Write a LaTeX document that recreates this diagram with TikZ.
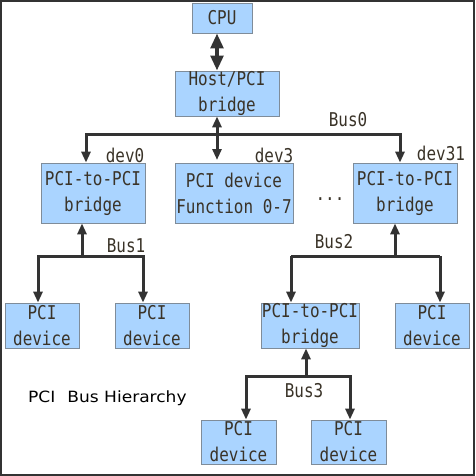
\documentclass[tikz,border=0pt]{standalone}
\usepackage{fontspec}
\setmainfont{DejaVu Sans}
\newfontfamily\monof[FakeStretch=0.84]{DejaVu Sans Mono}
\newfontfamily\titlef[FakeStretch=1.1]{DejaVu Sans}
\usetikzlibrary{arrows.meta,calc}
\definecolor{boxfill}{HTML}{AAD4FF}
\definecolor{boxdraw}{HTML}{7F8C99}
\definecolor{wirec}{HTML}{333333}
\definecolor{txtc}{HTML}{3A3328}
\begin{document}
\begin{tikzpicture}[x=1pt,y=-1pt,
  box/.style={draw=boxdraw, fill=boxfill, line width=0.8pt, font=\monof\fontsize{19}{26}\selectfont, text=txtc, align=center, inner sep=0pt},
  wire/.style={draw=wirec, line width=3pt},
  arr/.style={wire, -{Triangle[length=11pt,width=9pt]}},
  darr/.style={wire, {Triangle[length=11pt,width=9pt]}-{Triangle[length=11pt,width=9pt]}},
  bigdarr/.style={draw=wirec, line width=4.5pt, {Triangle[length=15pt,width=12.5pt]}-{Triangle[length=15pt,width=12.5pt]}},
  lbl/.style={font=\monof\fontsize{19}{24}\selectfont, text=txtc, inner sep=0pt}]
\useasboundingbox (0,0) rectangle (475,476);
\draw[draw=wirec, line width=2pt] (1,1) rectangle (473.5,474.5);

% nodes
\node[box, minimum width=60pt, minimum height=30pt] (cpu) at (222,18) {CPU};
\node[box, minimum width=104pt, minimum height=45pt] (host) at (227,93.5) {Host/PCI\\bridge};
\node[box, minimum width=104pt, minimum height=60pt] (br0) at (93,193) {PCI-to-PCI\\bridge};
\node[box, minimum width=118pt, minimum height=60pt] (fn) at (234,193) {PCI device\\Function 0-7};
\node[box, minimum width=104pt, minimum height=60pt] (br31) at (405,193) {PCI-to-PCI\\bridge};
\node[box, minimum width=74pt, minimum height=45pt] (d1) at (42,325.5) {PCI\\device};
\node[box, minimum width=74pt, minimum height=45pt] (d2) at (152,325.5) {PCI\\device};
\node[box, minimum width=98pt, minimum height=45pt] (br2) at (310,325.5) {PCI-to-PCI\\bridge};
\node[box, minimum width=74pt, minimum height=45pt] (d4) at (432,325.5) {PCI\\device};
\node[box, minimum width=75pt, minimum height=44pt] (d5) at (238.5,442) {PCI\\device};
\node[box, minimum width=75pt, minimum height=44pt] (d6) at (348.5,442) {PCI\\device};

% labels
\node[lbl] (lb0) at (348,120) {Bus0};
\node[lbl] (ldev0) at (125,155) {dev0};
\node[lbl] (ldev3) at (274,155) {dev3};
\node[lbl] (ldev31) at (441,153) {dev31};
\node[lbl] (ldots) at (330,199) {...};
\node[lbl] (lb1) at (126,246) {Bus1};
\node[lbl] (lb2) at (334,242) {Bus2};
\node[lbl] (lb3) at (304,391) {Bus3};
\node[font=\titlef\fontsize{15.5}{18}\selectfont, text=black, anchor=west, inner sep=0pt] (title) at (28,398) {PCI\hspace{12pt}Bus Hierarchy};

% bus coordinates
\coordinate (b0l) at (86,134);
\coordinate (b0r) at (400,134);
\coordinate (b0h) at (217,160);
\coordinate (b1l) at (38,256);
\coordinate (b1r) at (143,256);
\coordinate (b1m) at (82,256);
\coordinate (b2l) at (291,256);
\coordinate (b2r) at (440,256);
\coordinate (b2m) at (395,256);
\coordinate (b3l) at (246,376);
\coordinate (b3r) at (350,376);
\coordinate (b3m) at (306,376);

% CPU - host
\draw[bigdarr] (cpu.south -| 217,0) -- (host.north -| 217,0);
% Bus0
\draw[wire, line cap=rect] (b0l) -- (b0r);
\draw[darr] (host.south -| 217,0) -- (b0h);
\draw[arr] (b0l) -- (b0l |- br0.north);
\draw[arr] (b0r) -- (b0r |- br31.north);
% Bus1
\draw[wire, line cap=rect] (b1l) -- (b1r);
\draw[arr] (b1m) -- (b1m |- br0.south);
\draw[arr] (b1l) -- (b1l |- d1.north);
\draw[arr] (b1r) -- (b1r |- d2.north);
% Bus2
\draw[wire] (b2l) -- (b2r);
\draw[arr] (b2m) -- (b2m |- br31.south);
\draw[arr] (b2l) -- (b2l |- br2.north);
\draw[arr] (b2r) -- (b2r |- d4.north);
% Bus3
\draw[wire, line cap=rect] (b3l) -- (b3r);
\draw[arr] (b3m) -- (b3m |- br2.south);
\draw[arr] (b3l) -- (b3l |- d5.north);
\draw[arr] (b3r) -- (b3r |- d6.north);
\end{tikzpicture}
\end{document}
